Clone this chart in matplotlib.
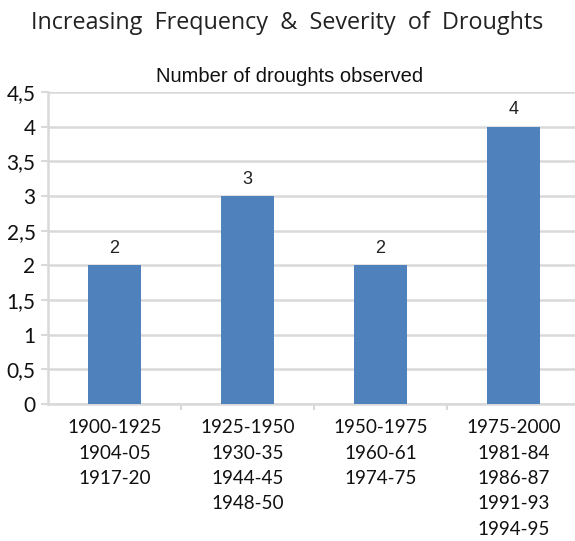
import matplotlib.pyplot as plt
from matplotlib.ticker import FuncFormatter, FixedLocator

# droughts per quarter century
periods = ['1900-1925\n1904-05\n1917-20',
           '1925-1950\n1930-35\n1944-45\n1948-50',
           '1950-1975\n1960-61\n1974-75',
           '1975-2000\n1981-84\n1986-87\n1991-93\n1994-95']
counts = [2, 3, 2, 4]

bar_color = '#4f81bd'
grid_color = '#d9d9d9'

fig = plt.figure(figsize=(5.75, 5.41), dpi=100)
ax = fig.add_axes([0.0835, 0.2532, 0.925, 0.577])

x = range(len(counts))
bars = ax.bar(x, counts, width=0.40, color=bar_color, zorder=3)

ax.set_xlim(-0.5, len(counts) - 0.5)
ax.set_ylim(0, 4.5)
ax.set_yticks([i * 0.5 for i in range(10)])
ax.yaxis.set_major_formatter(FuncFormatter(lambda v, p: ('%g' % v).replace('.', ',')))
ax.grid(axis='y', color=grid_color, linewidth=1.8, zorder=0)

ax.set_xticks(list(x))
ax.set_xticklabels(periods, fontsize=13.6, family='Lato', linespacing=1.6, va='top',
                   color='#111111')
ax.tick_params(axis='x', length=0, pad=11)
ax.xaxis.set_minor_locator(FixedLocator([0.5, 1.5, 2.5]))
ax.tick_params(axis='x', which='minor', length=4, color=grid_color, width=1.5)
ax.tick_params(axis='y', length=5, color=grid_color, width=1.5, labelsize=15, pad=4,
               labelcolor='#111111')
for lbl in ax.get_yticklabels():
    lbl.set_family('Lato')

for side in ['top', 'right']:
    ax.spines[side].set_visible(False)
for side in ['left', 'bottom']:
    ax.spines[side].set_color(grid_color)
    ax.spines[side].set_linewidth(1.8)

ax.bar_label(bars, labels=[str(c) for c in counts], padding=6, fontsize=13,
             family='Liberation Sans', color='#222222')

fig.text(0.5, 0.958, 'Increasing  Frequency  &  Severity  of  Droughts', ha='center',
         va='center', fontsize=16.8, family='Open Sans', color='#222222')
fig.text(0.504, 0.859, 'Number of droughts observed', ha='center', va='center',
         fontsize=14.5, family='Liberation Sans', color='#111111')

fig.savefig('out.png', dpi=100)
